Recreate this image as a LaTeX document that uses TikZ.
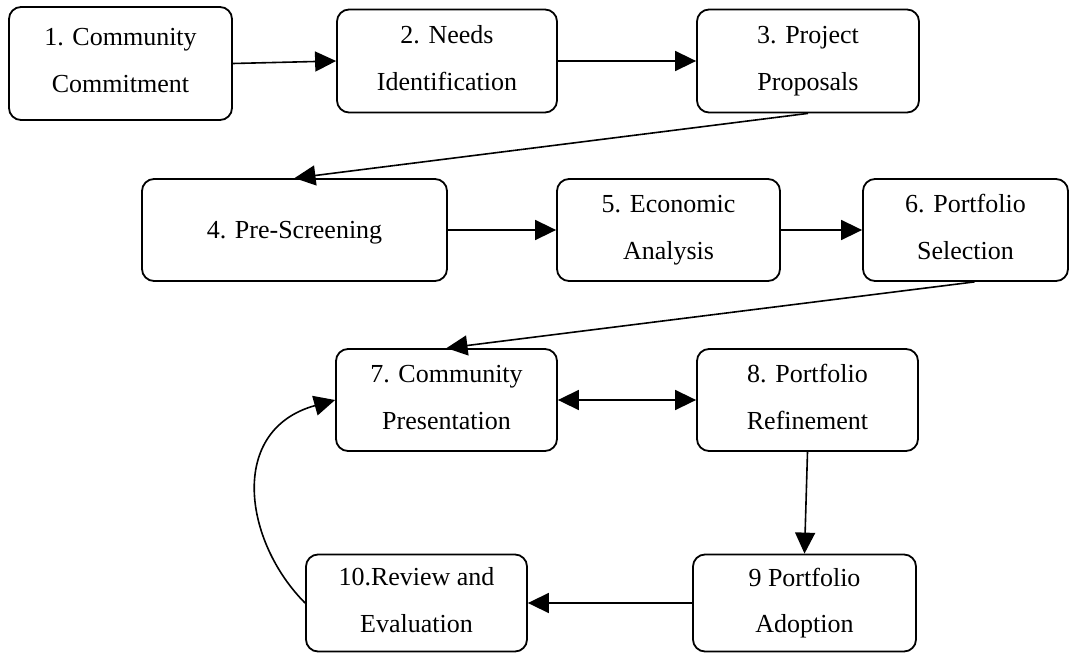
\documentclass[tikz,border=0pt]{standalone}
\usepackage{fontspec}
\setmainfont{Liberation Serif}
\usetikzlibrary{arrows.meta,calc}
\begin{document}
\begin{tikzpicture}[x=1pt,y=-1pt,
  box/.style={draw, line width=1.8pt, rounded corners=12pt, align=center, inner sep=0pt,
    font=\fontsize{26}{46.7}\selectfont, execute at end node={\vphantom{g}}},
  arr/.style={-{Triangle[length=21pt,width=20pt]}, line width=1.6pt},
  dbl/.style={{Triangle[length=21pt,width=20pt]}-{Triangle[length=21pt,width=20pt]}, line width=1.6pt}]
\useasboundingbox (0,0) rectangle (1076,655);
\node[box, minimum width=223pt, minimum height=113pt] (b1) at (120.5,63.5) {1. Community\\Commitment};
\node[box, minimum width=220pt, minimum height=103pt] (b2) at (447,61) {2. Needs\\Identification};
\node[box, minimum width=222pt, minimum height=103pt] (b3) at (808,61) {3. Project\\Proposals};
\node[box, minimum width=305pt, minimum height=102pt, text height=18pt, text depth=0pt] (b4) at (294.5,230) {4. Pre-Screening};
\node[box, minimum width=223pt, minimum height=102pt] (b5) at (668.5,230) {5. Economic\\Analysis};
\node[box, minimum width=205pt, minimum height=102pt] (b6) at (965.5,230) {6. Portfolio\\Selection};
\node[box, minimum width=221pt, minimum height=102pt] (b7) at (446.5,400) {7. Community\\Presentation};
\node[box, minimum width=221pt, minimum height=102pt] (b8) at (807.5,400) {8. Portfolio\\Refinement};
\node[box, minimum width=223pt, minimum height=97pt] (b9) at (804.5,603) {9 Portfolio\\Adoption};
\node[box, minimum width=221pt, minimum height=97pt] (b10) at (416.5,603) {10.Review and\\Evaluation};
\draw[arr] (b1.east) -- (b2.west);
\draw[arr] (b2.east) -- (b3.west);
\draw[arr] (b3.south) -- (b4.north);
\draw[arr] (b4.east) -- (b5.west);
\draw[arr] (b5.east) -- (b6.west);
\draw[arr] ([xshift=9pt]b6.south) -- (b7.north);
\draw[dbl] (b7.east) -- (b8.west);
\draw[arr] (b8.south) -- (b9.north);
\draw[arr] (b9.west) -- (b10.east);
\draw[arr] (b10.west) .. controls ($(b10.west)+(-61,-61)$) and ($(b7.west)+(-108,30)$) .. (b7.west);
\end{tikzpicture}
\end{document}
